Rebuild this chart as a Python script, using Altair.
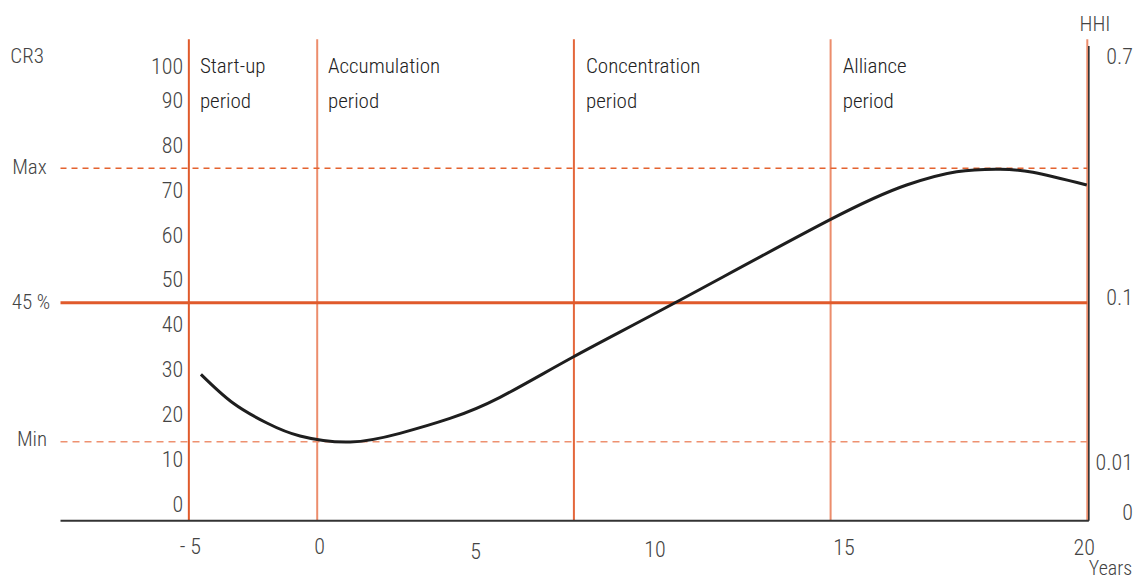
import altair as alt
import pandas as pd

# ---- data (x in period units: dividers at 5,10,20,30,40; y in CR3 %) ----
curve_x = [5.47, 6.72, 8.04, 9.33, 11.28, 13.22, 15.17, 17.12, 19.97,
           23.94, 30.0, 32.96, 34.91, 36.6, 37.88, 39.98]
curve_y = [29.04, 22.64, 18.18, 15.28, 13.94, 15.88, 19.2, 23.9, 32.9,
           45.0, 63.6, 71.27, 74.24, 74.8, 74.1, 71.27]

divider_x = [5, 10, 20, 30, 40]
divider_color = ["#E05A2B", "#EC8D6C", "#E4673B", "#EC8D6C", "#EC8D6C"]

ref_name = ["Max", "45 %", "Min"]
ref_y = [75, 45, 14]

phase_line1 = ["Start-up", "Accumulation", "Concentration", "Alliance"]
phase_line2 = ["period", "period", "period", "period"]
phase_x = [5.43, 10.42, 20.47, 30.47]

cr3_labels = ["0", "10", "20", "30", "40", "50", "60", "70", "80", "90", "100"]
cr3_pos = [0, 10, 20, 30, 40, 50, 60, 70, 80, 90, 97.6]

hhi_labels = ["0.7", "0.1", "0.01", "0"]
hhi_pos = [99.8, 46.0, 9.3, -1.9]

year_labels = ["- 5", "0", "5", "10", "15", "20"]
year_x = [5.06, 10.09, 16.17, 23.16, 30.52, 39.88]
year_y = [-9.41, -9.48, -10.6, -10.1, -9.6, -9.64]

X_DOMAIN = [-2.357, 41.897]
Y_DOMAIN = [-17.06, 112.54]
AXIS_Y = -3.6
TOP_Y = 103.8

FONT = "Roboto Condensed, Liberation Sans Narrow, Roboto, sans-serif"
GRAY = "#444444"
WEIGHT = 300

xs = alt.Scale(domain=X_DOMAIN, nice=False, zero=False)
ys = alt.Scale(domain=Y_DOMAIN, nice=False, zero=False)
X = lambda f: alt.X(f, type="quantitative", scale=xs, axis=None)
Y = lambda f: alt.Y(f, type="quantitative", scale=ys, axis=None)

# ---- frames ----
curve_df = pd.DataFrame({"x": curve_x, "y": curve_y})
div_df = pd.DataFrame({"x": divider_x, "c": divider_color,
                       "y0": [AXIS_Y] * 5, "y1": [TOP_Y] * 5})
ref_df = pd.DataFrame({"name": ref_name, "y": ref_y,
                       "x0": [0] * 3, "x1": [divider_x[-1]] * 3})
phase_df = pd.DataFrame({"t": phase_line1 + phase_line2, "x": phase_x * 2,
                         "y": [97.6] * 4 + [89.8] * 4})
cr3_df = pd.DataFrame({"t": cr3_labels, "y": cr3_pos, "x": [4.78] * len(cr3_labels)})
hhi_df = pd.DataFrame({"t": hhi_labels, "y": hhi_pos, "x": [41.78] * len(hhi_labels)})
year_df = pd.DataFrame({"t": year_labels, "x": year_x, "y": year_y})
side_df = pd.DataFrame({"t": ["CR3", "Max", "45 %", "Min", "HHI"],
                        "x": [-1.30, -1.21, -1.15, -1.11, 40.30],
                        "y": [99.8, 75.0, 45.0, 14.3, 106.96]})
years_df = pd.DataFrame({"t": ["Years"], "x": [41.75], "y": [-14.4]})

# ---- layers ----
dividers = alt.Chart(div_df).mark_rule(strokeWidth=2).encode(
    x=X("x"), y=Y("y0"), y2="y1", color=alt.Color("c:N", scale=None))

ref_max = alt.Chart(ref_df[ref_df.name == "Max"]).mark_rule(
    strokeWidth=1.5, strokeDash=[6, 5], color="#E4622F").encode(x=X("x0"), x2="x1", y=Y("y"))
ref_45 = alt.Chart(ref_df[ref_df.name == "45 %"]).mark_rule(
    strokeWidth=3, color="#E05A2B").encode(x=X("x0"), x2="x1", y=Y("y"))
ref_min = alt.Chart(ref_df[ref_df.name == "Min"]).mark_rule(
    strokeWidth=1.5, strokeDash=[7, 5], color="#EE9170").encode(x=X("x0"), x2="x1", y=Y("y"))

axis_df = pd.DataFrame({"x0": [0], "x1": [40.06], "y": [AXIS_Y], "y1": [102.3], "xr": [40.06]})
x_axis = alt.Chart(axis_df).mark_rule(strokeWidth=2, color="#333333").encode(
    x=X("x0"), x2="x1", y=Y("y"))
right_axis = alt.Chart(axis_df).mark_rule(strokeWidth=1.5, color="#222222").encode(
    x=X("xr"), y=Y("y"), y2="y1")

curve = alt.Chart(curve_df).mark_line(
    color="#1E1E1E", strokeWidth=3, interpolate="natural").encode(x=X("x"), y=Y("y"))

phase_text = alt.Chart(phase_df).mark_text(
    align="left", baseline="middle", font=FONT, fontSize=21, fontWeight=WEIGHT,
    color="#222222").encode(x=X("x"), y=Y("y"), text="t:N")
cr3_text = alt.Chart(cr3_df).mark_text(
    align="right", baseline="middle", font=FONT, fontSize=22, fontWeight=WEIGHT,
    color=GRAY).encode(x=X("x"), y=Y("y"), text="t:N")
hhi_text = alt.Chart(hhi_df).mark_text(
    align="right", baseline="middle", font=FONT, fontSize=22, fontWeight=WEIGHT,
    color=GRAY).encode(x=X("x"), y=Y("y"), text="t:N")
year_text = alt.Chart(year_df).mark_text(
    align="center", baseline="middle", font=FONT, fontSize=22, fontWeight=WEIGHT,
    color=GRAY).encode(x=X("x"), y=Y("y"), text="t:N")
side_text = alt.Chart(side_df).mark_text(
    align="center", baseline="middle", font=FONT, fontSize=21, fontWeight=WEIGHT,
    color=GRAY).encode(x=X("x"), y=Y("y"), text="t:N")
years_text = alt.Chart(years_df).mark_text(
    align="right", baseline="middle", font=FONT, fontSize=20, fontWeight=WEIGHT,
    color=GRAY).encode(x=X("x"), y=Y("y"), text="t:N")

chart = alt.layer(
    dividers, ref_max, ref_min, ref_45, x_axis, right_axis, curve,
    phase_text, cr3_text, hhi_text, year_text, side_text, years_text,
).properties(
    width=1136, height=581, autosize=alt.AutoSizeParams(type="none"), padding=0,
    background="white",
).configure_view(stroke=None)

chart.save("out.html", embed_options={"renderer": "svg", "actions": False})
